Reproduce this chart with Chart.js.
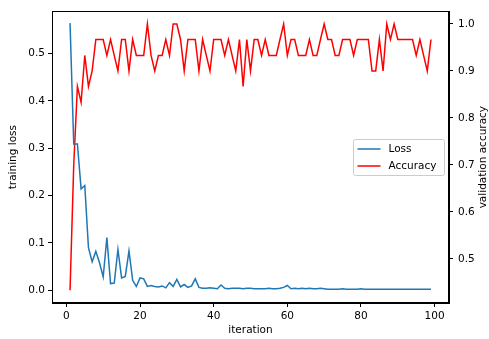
<!DOCTYPE html>
<html>
<head>
<meta charset="utf-8">
<script src="https://cdn.jsdelivr.net/npm/chart.js@4/dist/chart.umd.min.js"></script>
<style>
    html, body { margin: 0; padding: 0; background: #fff; }
    canvas { display: block; }
</style>
</head>
<body>
<canvas id="grafico" width="489" height="339"></canvas>
<script>
let iterations = [
    1, 2, 3, 4, 5, 6, 7, 8, 9, 10, 11, 12, 13, 14, 15, 16, 17, 18, 19, 20,
    21, 22, 23, 24, 25, 26, 27, 28, 29, 30, 31, 32, 33, 34, 35, 36, 37, 38, 39, 40,
    41, 42, 43, 44, 45, 46, 47, 48, 49, 50, 51, 52, 53, 54, 55, 56, 57, 58, 59, 60,
    61, 62, 63, 64, 65, 66, 67, 68, 69, 70, 71, 72, 73, 74, 75, 76, 77, 78, 79, 80,
    81, 82, 83, 84, 85, 86, 87, 88, 89, 90, 91, 92, 93, 94, 95, 96, 97, 98, 99
];

let lossValues = [
    0.564, 0.309, 0.309, 0.214, 0.221, 0.090, 0.060, 0.082, 0.058, 0.028,
    0.111, 0.014, 0.015, 0.086, 0.026, 0.029, 0.083, 0.021, 0.008, 0.026,
    0.024, 0.008, 0.010, 0.008, 0.007, 0.009, 0.005, 0.016, 0.008, 0.023,
    0.007, 0.012, 0.006, 0.009, 0.024, 0.006, 0.004, 0.004, 0.005, 0.004,
    0.003, 0.011, 0.004, 0.003, 0.004, 0.004, 0.004, 0.003, 0.004, 0.004,
    0.003, 0.003, 0.003, 0.003, 0.004, 0.003, 0.003, 0.004, 0.006, 0.010,
    0.003, 0.004, 0.003, 0.004, 0.003, 0.004, 0.003, 0.003, 0.004, 0.003,
    0.002, 0.002, 0.002, 0.002, 0.003, 0.002, 0.002, 0.002, 0.002, 0.003,
    0.002, 0.002, 0.002, 0.002, 0.002, 0.002, 0.002, 0.002, 0.002, 0.002,
    0.002, 0.002, 0.002, 0.002, 0.002, 0.002, 0.002, 0.002, 0.002
];

let accuracyValues = [
    0.433, 0.700, 0.867, 0.833, 0.933, 0.867, 0.900, 0.967, 0.967, 0.967,
    0.933, 0.967, 0.933, 0.900, 0.967, 0.967, 0.900, 0.967, 0.933, 0.933,
    0.933, 1.000, 0.933, 0.900, 0.933, 0.933, 0.967, 0.933, 1.000, 1.000,
    0.967, 0.900, 0.967, 0.967, 0.967, 0.900, 0.967, 0.933, 0.900, 0.967,
    0.967, 0.967, 0.933, 0.967, 0.933, 0.900, 0.967, 0.867, 0.967, 0.900,
    0.967, 0.967, 0.933, 0.967, 0.933, 0.933, 0.933, 0.967, 1.000, 0.933,
    0.967, 0.967, 0.933, 0.933, 0.933, 0.967, 0.933, 0.933, 0.967, 1.000,
    0.967, 0.967, 0.933, 0.933, 0.967, 0.967, 0.967, 0.933, 0.967, 0.967,
    0.967, 0.967, 0.900, 0.900, 0.967, 0.900, 1.000, 0.967, 1.000, 0.967,
    0.967, 0.967, 0.967, 0.967, 0.933, 0.967, 0.933, 0.900, 0.967
];

let xTicks = [0, 20, 40, 60, 80, 100];
let lossTicks = [0.0, 0.1, 0.2, 0.3, 0.4, 0.5];
let accuracyTicks = [0.5, 0.6, 0.7, 0.8, 0.9, 1.0];

const FONT = "'DejaVu Sans', sans-serif";

// moldura completa em volta da area do grafico (estilo matplotlib)
const frame = {
    id: 'frame',
    afterDatasetsDraw(chart) {
        let { ctx, chartArea: a } = chart;
        ctx.save();
        ctx.strokeStyle = '#000';
        ctx.lineWidth = 1;
        ctx.strokeRect(Math.round(a.left) + 0.5, Math.round(a.top) + 0.5,
            Math.round(a.right - a.left) - 1, Math.round(a.bottom - a.top) - 1);
        ctx.restore();
    }
};

// titulo do eixo direito lido de baixo para cima, como no matplotlib
const rightTitle = {
    id: 'rightTitle',
    afterDraw(chart) {
        let { ctx, chartArea: a } = chart;
        ctx.save();
        ctx.translate(chart.width - 6, (a.top + a.bottom) / 2);
        ctx.rotate(-Math.PI / 2);
        ctx.font = '10.5px ' + FONT;
        ctx.fillStyle = '#000';
        ctx.textAlign = 'center';
        ctx.textBaseline = 'middle';
        ctx.fillText('validation accuracy', 0, 0);
        ctx.restore();
    }
};

// legenda dentro da area, centro-direita
const innerLegend = {
    id: 'innerLegend',
    afterDraw(chart) {
        let { ctx, chartArea: a } = chart;
        let sets = chart.data.datasets;
        let w = 91, h = 36;
        let x = Math.round(a.right - 5 - w) + 0.5;
        let y = Math.round((a.top + a.bottom) / 2 - h / 2) + 0.5;
        ctx.save();
        ctx.fillStyle = 'rgba(255,255,255,0.85)';
        ctx.strokeStyle = '#cccccc';
        ctx.lineWidth = 1;
        ctx.beginPath();
        ctx.roundRect(x, y, w, h, 2);
        ctx.fill();
        ctx.stroke();
        ctx.font = '10.5px ' + FONT;
        ctx.textBaseline = 'middle';
        sets.forEach((ds, i) => {
            let ly = y + 9.5 + i * 17;
            ctx.strokeStyle = ds.borderColor;
            ctx.lineWidth = 1.5;
            ctx.beginPath();
            ctx.moveTo(x + 4, ly);
            ctx.lineTo(x + 27, ly);
            ctx.stroke();
            ctx.fillStyle = '#000';
            ctx.fillText(ds.label, x + 35, ly);
        });
        ctx.restore();
    }
};

function fixedTicks(list) {
    return axis => { axis.ticks = list.map(v => ({ value: v })); };
}

function axisBase(title, pad) {
    return {
        grid: { display: true, drawOnChartArea: false, drawTicks: true, tickLength: 4, color: '#000' },
        border: { display: true, color: '#000', width: 1 },
        ticks: { color: '#000', font: { family: FONT, size: 10.5 }, padding: pad },
        title: { display: true, text: title, color: '#000', font: { family: FONT, size: 10.5 } }
    };
}

let xAxis = axisBase('iteration', 3);
xAxis.type = 'linear';
xAxis.min = -3.9;
xAxis.max = 103.9;
xAxis.afterBuildTicks = fixedTicks(xTicks);
xAxis.ticks.callback = v => v.toString();
xAxis.title.padding = { top: 0, bottom: 2 };
xAxis.afterFit = s => { s.height = 36; };

let yLoss = axisBase('training loss', 3);
yLoss.position = 'left';
yLoss.min = -0.027;
yLoss.max = 0.589;
yLoss.afterBuildTicks = fixedTicks(lossTicks);
yLoss.ticks.callback = v => v.toFixed(1);
yLoss.title.padding = { top: 7, bottom: 0 };
yLoss.afterFit = s => { s.width = 52; };

let yAcc = axisBase('validation accuracy', 5);
yAcc.position = 'right';
yAcc.min = 0.406;
yAcc.max = 1.027;
yAcc.afterBuildTicks = fixedTicks(accuracyTicks);
yAcc.ticks.callback = v => v.toFixed(1);
yAcc.title.display = false;
yAcc.afterFit = s => { s.width = 40; };

let chart = new Chart(document.getElementById('grafico'), {
    type: 'line',
    data: {
        datasets: [
            {
                label: 'Loss',
                data: iterations.map((it, i) => ({ x: it, y: lossValues[i] })),
                borderColor: '#1f77b4',
                borderWidth: 1.5,
                pointRadius: 0,
                tension: 0,
                yAxisID: 'y'
            }, {
                label: 'Accuracy',
                data: iterations.map((it, i) => ({ x: it, y: accuracyValues[i] })),
                borderColor: '#ff0000',
                borderWidth: 1.5,
                pointRadius: 0,
                tension: 0,
                yAxisID: 'y1'
            }
        ]
    },
    options: {
        responsive: false,
        animation: false,
        layout: { padding: { top: 6, left: 0, right: 0, bottom: 0 } },
        plugins: {
            legend: { display: false },
            tooltip: { enabled: false }
        },
        scales: { x: xAxis, y: yLoss, y1: yAcc }
    },
    plugins: [frame, rightTitle, innerLegend]
});
</script>
</body>
</html>
